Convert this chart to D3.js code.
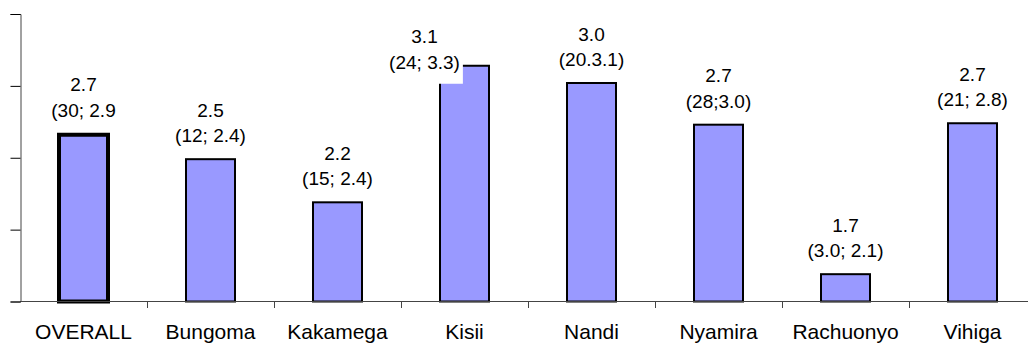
<!DOCTYPE html>
<html>
<head>
<meta charset="utf-8">
<script src="https://cdn.jsdelivr.net/npm/d3@7"></script>
<style>
  body { margin: 0; background: #fff; }
  svg { display: block; font-family: Arial, "Liberation Sans", sans-serif; }
</style>
</head>
<body>
<svg width="1028" height="346"></svg>
<script>
// data
var districts = ['OVERALL', 'Bungoma', 'Kakamega', 'Kisii', 'Nandi', 'Nyamira', 'Rachuonyo', 'Vihiga'];
var means = [2.66, 2.49, 2.19, 3.14, 3.02, 2.73, 1.69, 2.74];
var meanLabels = ['2.7', '2.5', '2.2', '3.1', '3.0', '2.7', '1.7', '2.7'];
var rangeLabels = ['(30; 2.9', '(12; 2.4)', '(15; 2.4)', '(24; 3.3)', '(20.3.1)', '(28;3.0)', '(3.0; 2.1)', '(21; 2.8)'];
var yTicks = [1.5, 2.0, 2.5, 3.0, 3.5];

var svg = d3.select('svg');

var plotLeft = 20;
var bandW = 127;
var plotBase = 301.5;
var plotTop = 14;
var barW = 49;

var x = d3.scaleBand().domain(districts).range([plotLeft, plotLeft + bandW * districts.length]);
var y = d3.scaleLinear().domain([1.5, 3.5]).range([plotBase, plotTop]);

// bars
var bars = svg.append('g');
districts.forEach(function (d, i) {
    var sw = (d == 'OVERALL') ? 4 : 2;
    bars.append('rect')
        .attr('x', x(d) + x.bandwidth() / 2 - barW / 2)
        .attr('y', y(means[i]))
        .attr('width', barW)
        .attr('height', plotBase - y(means[i]))
        .attr('fill', '#9999ff')
        .attr('stroke', '#000')
        .attr('stroke-width', sw);
});

// x axis line + ticks between categories
svg.append('line').attr('x1', plotLeft).attr('x2', 1028).attr('y1', plotBase).attr('y2', plotBase)
    .attr('stroke', '#444').attr('stroke-width', 1);
districts.forEach(function (d, i) {
    if (i == 0) return;
    svg.append('line').attr('x1', x(d) + 0.5).attr('x2', x(d) + 0.5)
        .attr('y1', plotBase).attr('y2', plotBase + 6.5)
        .attr('stroke', '#444');
});

// y axis (no tick labels)
var yAxis = d3.axisLeft(y).tickValues(yTicks).tickSize(10).tickFormat('');
var gy = svg.append('g').attr('transform', 'translate(' + (plotLeft + 0.5) + ',0)').call(yAxis);
gy.select('.domain').attr('stroke', '#444');
gy.selectAll('.tick line').attr('stroke', '#000');

// category labels
svg.append('g').selectAll('text').data(districts).enter().append('text')
    .attr('x', function (d) { return x(d) + x.bandwidth() / 2; })
    .attr('y', 338.5)
    .attr('text-anchor', 'middle')
    .attr('font-size', 21)
    .attr('fill', '#000')
    .text(function (d) { return d; });

// value labels; Kisii label got pushed down/left by the plot top
var nudge = { 'Kisii': [-40, 20] };
var labels = svg.append('g');
districts.forEach(function (d, i) {
    var sw = (d == 'OVERALL') ? 4 : 2;
    var cx = x(d) + x.bandwidth() / 2;
    var b2 = y(means[i]) - sw / 2 - 16;
    if (nudge[d]) { cx += nudge[d][0]; b2 += nudge[d][1]; }
    var g = labels.append('g');
    var t1 = g.append('text').attr('x', cx).attr('y', b2 - 25.5)
        .attr('text-anchor', 'middle').attr('font-size', 19).text(meanLabels[i]);
    var t2 = g.append('text').attr('x', cx).attr('y', b2)
        .attr('text-anchor', 'middle').attr('font-size', 19).text(rangeLabels[i]);
    if (b2 + 11 > y(means[i])) {
        var bb = t2.node().getBBox();
        g.insert('rect', 'text')
            .attr('x', bb.x - 3).attr('y', b2 - 25.5 - 20)
            .attr('width', bb.width + 6).attr('height', 25.5 + 20 + 15)
            .attr('fill', '#fff');
    }
});
</script>
</body>
</html>
